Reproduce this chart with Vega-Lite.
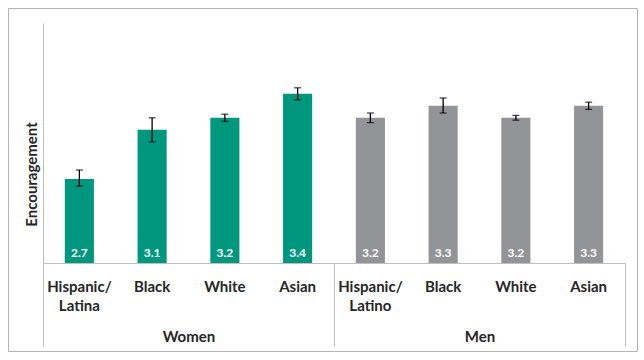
{
  "$schema": "https://vega.github.io/schema/vega-lite/v6.json",
  "width": 629,
  "height": 343,
  "autosize": {"type": "none"},
  "padding": {"left": 8, "top": 8, "right": 7, "bottom": 9},
  "background": "white",
  "config": {
    "view": {"stroke": "#B4B4B4", "strokeWidth": 1},
    "font": "Lato",
    "axis": {"labelFont": "Lato", "titleFont": "Lato"}
  },
  "data": {
    "values": [
      {"gender": "Women", "key": "Women|Hispanic/|Latina", "value": 2.7, "lo": 2.64, "hi": 2.775},
      {"gender": "Women", "key": "Women|Black", "value": 3.11, "lo": 3.01, "hi": 3.21},
      {"gender": "Women", "key": "Women|White", "value": 3.21, "lo": 3.18, "hi": 3.24},
      {"gender": "Women", "key": "Women|Asian", "value": 3.41, "lo": 3.36, "hi": 3.46},
      {"gender": "Men", "key": "Men|Hispanic/|Latino", "value": 3.21, "lo": 3.17, "hi": 3.25},
      {"gender": "Men", "key": "Men|Black", "value": 3.31, "lo": 3.25, "hi": 3.375},
      {"gender": "Men", "key": "Men|White", "value": 3.21, "lo": 3.19, "hi": 3.23},
      {"gender": "Men", "key": "Men|Asian", "value": 3.31, "lo": 3.28, "hi": 3.34}
    ]
  },
  "layer": [
    {
      "encoding": {
        "x": {
          "field": "key",
          "type": "nominal",
          "sort": null,
          "scale": {"type": "band", "range": [35, 617], "paddingInner": 0.6, "paddingOuter": 0.3},
          "axis": {
            "orient": "bottom",
            "offset": -88,
            "title": null,
            "domainColor": "#BFBFBF",
            "domainWidth": 1,
            "ticks": false,
            "labelAngle": 0,
            "labelExpr": "slice(split(datum.value, '|'), 1)",
            "labelFontSize": 15,
            "labelFontWeight": "bold",
            "labelColor": "#262626",
            "labelPadding": 16,
            "labelLineHeight": 19
          }
        }
      },
      "layer": [
        {
          "mark": {"type": "bar"},
          "encoding": {
            "y": {
              "field": "value",
              "type": "quantitative",
              "scale": {"domain": [2, 4], "range": [255, 15], "nice": false, "zero": false},
              "axis": {
                "orient": "left",
                "offset": -35,
                "title": "Encouragement",
                "labels": false,
                "ticks": false,
                "grid": false,
                "domainColor": "#BFBFBF",
                "titleFontSize": 15,
                "titleFontWeight": "bold",
                "titleColor": "#262626",
                "titlePadding": 4,
                "titleY": 166
              }
            },
            "y2": {"datum": 2},
            "color": {
              "field": "gender",
              "type": "nominal",
              "scale": {"domain": ["Women", "Men"], "range": ["#00977F", "#929497"]},
              "legend": null
            }
          }
        },
        {
          "mark": {"type": "rule", "color": "black", "strokeWidth": 1.3},
          "encoding": {
            "y": {"field": "lo", "type": "quantitative"},
            "y2": {"field": "hi"}
          }
        },
        {
          "mark": {"type": "tick", "color": "black", "size": 7, "thickness": 1.3, "orient": "horizontal"},
          "encoding": {"y": {"field": "lo", "type": "quantitative"}}
        },
        {
          "mark": {"type": "tick", "color": "black", "size": 7, "thickness": 1.3, "orient": "horizontal"},
          "encoding": {"y": {"field": "hi", "type": "quantitative"}}
        },
        {
          "mark": {"type": "text", "color": "white", "fontWeight": "bold", "fontSize": 12, "baseline": "alphabetic", "dy": -6},
          "encoding": {
            "y": {"datum": 2, "type": "quantitative"},
            "text": {"field": "value", "type": "quantitative", "format": ".1f"}
          }
        }
      ]
    },
    {
      "mark": {"type": "point", "opacity": 0},
      "encoding": {
        "x": {
          "field": "gender",
          "type": "nominal",
          "sort": ["Women", "Men"],
          "scale": {"type": "band", "range": [35, 617], "paddingInner": 0, "paddingOuter": 0},
          "axis": {
            "orient": "bottom",
            "offset": -88,
            "title": null,
            "domain": false,
            "ticks": true,
            "tickBand": "extent",
            "tickSize": 83,
            "tickColor": "#BFBFBF",
            "labelAngle": 0,
            "labelFontSize": 15,
            "labelFontWeight": "bold",
            "labelColor": "#262626",
            "labelPadding": -17
          }
        }
      }
    }
  ],
  "resolve": {"scale": {"x": "independent"}, "axis": {"x": "independent"}}
}
